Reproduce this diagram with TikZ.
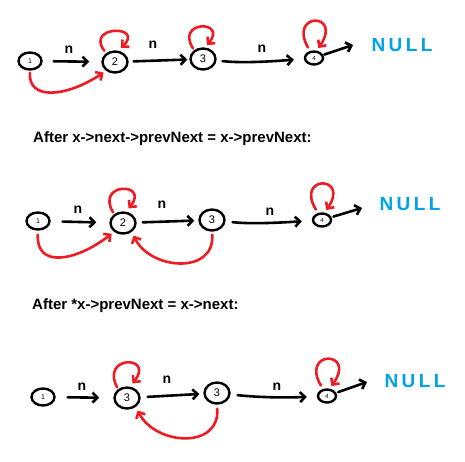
\documentclass[tikz,border=0pt]{standalone}
\usepackage{fontspec}
\setmainfont{Liberation Sans}
\usetikzlibrary{arrows.meta,shapes.geometric}
\definecolor{pred}{RGB}{237,28,36}
\definecolor{pblue}{RGB}{0,162,232}
\tikzset{
  lnode/.style={ellipse, draw=black, line width=2.4pt, fill=white, inner sep=0pt},
  bignode/.style={lnode, minimum width=25pt, minimum height=21pt, font=\fontsize{11}{11}\selectfont},
  smlnode/.style={lnode, minimum width=23pt, minimum height=17pt, font=\fontsize{7}{7}\selectfont},
  tinynode/.style={lnode, minimum width=18pt, minimum height=13pt, font=\fontsize{6}{6}\selectfont},
  nxt/.style={line width=2.6pt, line cap=round, -{Straight Barb[length=5pt,width=10pt]}},
  ptr/.style={draw=pred, line width=2.6pt, line cap=round, -{Straight Barb[length=5pt,width=10pt]}},
  nlabel/.style={font=\fontsize{14}{14}\selectfont\bfseries, inner sep=0pt},
  nulltext/.style={text=pblue, inner sep=0pt, font=\fontsize{19}{19}\selectfont\bfseries\addfontfeatures{LetterSpace=18}},
  title/.style={anchor=west, inner sep=0pt, font=\fontsize{15}{15}\selectfont\bfseries}
}
\begin{document}
\begin{tikzpicture}[x=1pt,y=-1pt]
\useasboundingbox (0,0) rectangle (465,461);

% ---------------- Row 1 ----------------
\node[smlnode] (r1n1) at (30,61) {1};
\node[bignode] (r1n2) at (115,62) {2};
\node[bignode] (r1n3) at (203,59) {3};
\node[tinynode] (r1n4) at (314,58) {4};
\node[nulltext] (r1null) at (402,45) {NULL};
\coordinate (r1end) at (353,45);
\node[nlabel] (r1l1) at (69,50) {n};
\node[nlabel] (r1l2) at (153,45) {n};
\node[nlabel] (r1l3) at (262,49) {n};

\draw[nxt, shorten <=11pt, shorten >=12pt] (r1n1) -- (r1n2);
\draw[nxt, shorten <=5pt, shorten >=2pt] (r1n2) -- (r1n3);
\draw[nxt, shorten <=6pt, shorten >=10pt] (r1n3) .. controls (240,63) and (265,62) .. (r1n4);
\draw[nxt, shorten <=1pt] (r1n4) -- (r1end);

\draw[ptr, shorten <=3pt, shorten >=4pt] (r1n2.135) .. controls (85,25) and (145,25) .. (r1n2.75);
\draw[ptr, shorten <=2pt, shorten >=3pt] (r1n3.135) .. controls (175,20) and (228,20) .. (r1n3.80);
\draw[ptr, shorten <=4pt, shorten >=3pt] (r1n4.120) .. controls (288,12) and (343,12) .. (r1n4.70);
\draw[ptr, shorten <=2pt, shorten >=3pt] (r1n1.south) .. controls (28,100) and (65,98) .. (r1n2.225);

% ---------------- Row 2 ----------------
\node[title] (t2) at (33,139) {After x->next->prevNext = x->prevNext:};
\node[smlnode] (r2n1) at (38,221) {1};
\node[bignode] (r2n2) at (123,223) {2};
\node[bignode] (r2n3) at (212,220) {3};
\node[tinynode] (r2n4) at (322,220) {4};
\node[nulltext] (r2null) at (410,204) {NULL};
\coordinate (r2end) at (362,208);
\node[nlabel] (r2l1) at (78,210) {n};
\node[nlabel] (r2l2) at (162,205) {n};
\node[nlabel] (r2l3) at (270,212) {n};

\draw[nxt, shorten <=12pt, shorten >=13pt] (r2n1) -- (r2n2);
\draw[nxt, shorten <=6pt, shorten >=4pt] (r2n2) -- (r2n3);
\draw[nxt, shorten <=7pt, shorten >=10pt] (r2n3) .. controls (250,224) and (275,223) .. (r2n4);
\draw[nxt, shorten <=2pt] (r2n4) -- (r2end);

\draw[ptr, shorten <=2pt, shorten >=4pt] (r2n2.135) .. controls (95,182) and (150,182) .. (r2n2.75);
\draw[ptr, shorten <=4pt, shorten >=3pt] (r2n4.120) .. controls (295,175) and (350,175) .. (r2n4.70);
\draw[ptr, shorten <=4pt, shorten >=3pt] (r2n1.south) .. controls (36,268) and (75,262) .. (r2n2.225);
\draw[ptr, shorten <=3pt, shorten >=4pt] (r2n3.south) .. controls (215,275) and (150,270) .. (r2n2.315);

% ---------------- Row 3 ----------------
\node[title] (t3) at (32,306) {After *x->prevNext = x->next:};
\node[smlnode] (r3n1) at (43,397) {1};
\node[bignode] (r3n2) at (127,398) {3};
\node[bignode] (r3n3) at (217,393) {3};
\node[tinynode] (r3n4) at (327,396) {4};
\node[nulltext] (r3null) at (415,381) {NULL};
\coordinate (r3end) at (367,382);
\node[nlabel] (r3l1) at (82,387) {n};
\node[nlabel] (r3l2) at (167,380) {n};
\node[nlabel] (r3l3) at (277,387) {n};

\draw[nxt, shorten <=12pt, shorten >=14pt] (r3n1) -- (r3n2);
\draw[nxt, shorten <=7pt, shorten >=4pt] (r3n2) -- (r3n3);
\draw[nxt, shorten <=7pt, shorten >=10pt] (r3n3) .. controls (255,397) and (280,398) .. (r3n4);
\draw[nxt, shorten <=2pt] (r3n4) -- (r3end);

\draw[ptr, shorten <=2pt, shorten >=4pt] (r3n2.135) .. controls (100,355) and (155,355) .. (r3n2.75);
\draw[ptr, shorten <=4pt, shorten >=3pt] (r3n4.120) .. controls (300,350) and (357,350) .. (r3n4.70);
\draw[ptr, shorten <=4pt, shorten >=4pt] (r3n3.south) .. controls (220,450) and (155,445) .. (r3n2.315);
\end{tikzpicture}
\end{document}
